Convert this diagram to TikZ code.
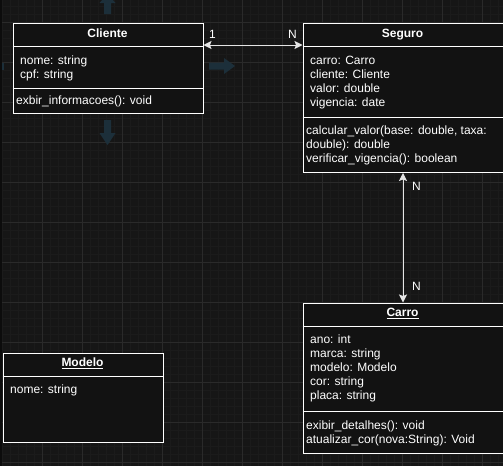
\documentclass[tikz,border=0pt]{standalone}
\usepackage{fontspec}
\setmainfont{Liberation Sans}
\usetikzlibrary{arrows.meta}
\definecolor{bgcol}{HTML}{161616}
\definecolor{minorgrid}{HTML}{1B1B1B}
\definecolor{majorgrid}{HTML}{2A2A2A}
\definecolor{edgecol}{HTML}{0C0C0C}
\definecolor{boxfill}{HTML}{121212}
\definecolor{hintcol}{HTML}{1C2F3A}
\definecolor{linkcol}{HTML}{E4E4E4}
\tikzset{
  classbox/.style={draw=white, fill=boxfill, line width=1pt, anchor=north west, inner sep=0pt},
  member/.style={anchor=base west, inner sep=0pt, text=white, font=\fontsize{12}{14}\selectfont},
  classname/.style={anchor=base, inner sep=0pt, text=white, font=\fontsize{12}{14}\selectfont\bfseries},
  mult/.style={anchor=base, inner sep=0pt, text=white, font=\fontsize{12}{14}\selectfont},
  assoc/.style={draw=linkcol, line width=1pt,
    {Stealth[length=8pt,width=8pt,inset=1.5pt]}-{Stealth[length=8pt,width=8pt,inset=1.5pt]}},
  hint/.style={fill=hintcol, draw=none}
}
\begin{document}
\begin{tikzpicture}[x=1pt,y=-1pt]
\useasboundingbox (0,0) rectangle (503,466);
% background and grid
\fill[bgcol] (0,0) rectangle (503,466);
\foreach \gx in {2,10,...,502} \draw[minorgrid, line width=0.8pt] (\gx,0) -- (\gx,466);
\foreach \gy in {6,14,...,466} \draw[minorgrid, line width=0.8pt] (0,\gy) -- (503,\gy);
\foreach \gx in {42,82,...,502} \draw[majorgrid, line width=0.8pt] (\gx,0) -- (\gx,466);
\foreach \gy in {22,62,...,466} \draw[majorgrid, line width=0.8pt] (0,\gy) -- (503,\gy);
\fill[edgecol] (0,0) rectangle (2,466);
% hover arrows round Cliente
\fill[hint] (104,3) -- (104,14) -- (111,14) -- (111,3) -- (115.5,3) -- (107.5,-6) -- (99.5,3) -- cycle;
\fill[hint] (104,120) -- (104,133) -- (99.5,133) -- (107.5,145) -- (115.5,133) -- (111,133) -- (111,120) -- cycle;
\fill[hint] (209,62.5) -- (224,62.5) -- (224,58) -- (235,66) -- (224,74) -- (224,69.5) -- (209,69.5) -- cycle;
\fill[hint] (4,62.5) -- (2,62.5) -- (2,69.5) -- (4,69.5) -- cycle;

% Cliente
\node[classbox, minimum width=190pt, minimum height=90pt] (cliente) at (12.5,22.5) {};
\draw[white, line width=1pt] (cliente.west |- 0,46) -- (cliente.east |- 0,46);
\draw[white, line width=1pt] (cliente.west |- 0,88) -- (cliente.east |- 0,88);
\node[classname] (cliente-title) at (107.5,37) {Cliente};
\node[member] (cliente-nome) at (20,64.5) {nome: string};
\node[member] (cliente-cpf) at (20,78.5) {cpf: string};
\node[member] (cliente-exibir) at (16,104.5) {exbir\_informacoes(): void};

% Seguro
\node[classbox, minimum width=200pt, minimum height=149.5pt] (seguro) at (302.5,22.5) {};
\draw[white, line width=1pt] (seguro.west |- 0,46) -- (seguro.east |- 0,46);
\draw[white, line width=1pt] (seguro.west |- 0,117) -- (seguro.east |- 0,117);
\node[classname] (seguro-title) at (402.5,37) {Seguro};
\node[member] (seguro-carro) at (310,64.5) {carro: Carro};
\node[member] (seguro-cliente) at (310,78.5) {cliente: Cliente};
\node[member] (seguro-valor) at (310,92.5) {valor: double};
\node[member] (seguro-vigencia) at (310,106.5) {vigencia: date};
\node[member] (seguro-calc) at (306,134.5) {calcular\_valor(base: double, taxa:};
\node[member] (seguro-calc2) at (306,148.5) {double): double};
\node[member] (seguro-verif) at (306,162.5) {verificar\_vigencia(): boolean};

% Carro
\node[classbox, minimum width=200pt, minimum height=150pt] (carro) at (302.5,302.5) {};
\draw[white, line width=1pt] (carro.west |- 0,326) -- (carro.east |- 0,326);
\draw[white, line width=1pt] (carro.west |- 0,411) -- (carro.east |- 0,411);
\node[classname] (carro-title) at (402.5,316.5) {\underline{Carro}};
\node[member] (carro-ano) at (310,343.5) {ano: int};
\node[member] (carro-marca) at (310,357.5) {marca: string};
\node[member] (carro-modelo) at (310,371.5) {modelo: Modelo};
\node[member] (carro-cor) at (310,385.5) {cor: string};
\node[member] (carro-placa) at (310,399.5) {placa: string};
\node[member] (carro-exibir) at (306,429.5) {exibir\_detalhes(): void};
\node[member] (carro-atualizar) at (306,443.5) {atualizar\_cor(nova:String): Void};

% Modelo
\node[classbox, minimum width=160pt, minimum height=89.5pt] (modelo) at (2.5,352.5) {};
\draw[white, line width=1pt] (modelo.west |- 0,376) -- (modelo.east |- 0,376);
\node[classname] (modelo-title) at (82.5,366.5) {\underline{Modelo}};
\node[member] (modelo-nome) at (10,393.5) {nome: string};

% associations
\draw[assoc] (cliente.east |- 0,45) -- (seguro.west |- 0,45);
\node[mult] (mult-cliente) at (212.5,38.5) {1};
\node[mult] (mult-seguro) at (292.5,38.5) {N};
\draw[assoc] (seguro.south) -- (carro.north);
\node[mult] (mult-seguro-carro) at (416.5,190) {N};
\node[mult] (mult-carro) at (416.5,290) {N};
\end{tikzpicture}
\end{document}
